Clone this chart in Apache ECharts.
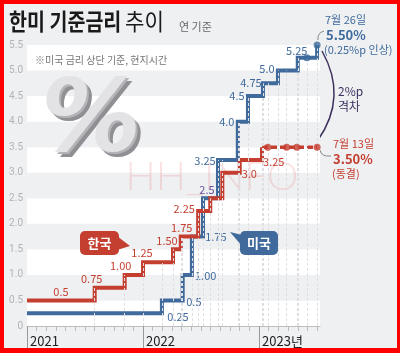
<!DOCTYPE html>
<html>
<head>
<meta charset="utf-8">
<script src="https://cdn.jsdelivr.net/npm/echarts@6/dist/echarts.min.js"></script>
<style>
html,body{margin:0;padding:0;background:#eff0f2;}
#chart{position:absolute;left:0;top:0;width:400px;height:353px;}
#frame{position:absolute;left:0;top:0;width:400px;height:353px;box-sizing:border-box;border-style:solid;border-color:#ff0000;border-width:4px 3px 5px 4px;pointer-events:none;}
</style>
</head>
<body>
<div id="chart"></div>
<div id="frame"></div>
<script>
// x = months since Jan 2021
const usChangeX = [0, 13.95, 16.1, 17.05, 18.2, 19.75, 21.8, 22.85, 24.4, 25.95, 28.0, 30.0];
const usRate    = [0.25, 0.5, 1.0, 1.75, 2.5, 3.25, 4.0, 4.5, 4.75, 5.0, 5.25, 5.5];
const usHoldX   = [28.95];
const krChangeX = [0, 7.0, 10.1, 12.0, 15.1, 15.9, 17.7, 18.95, 20.2, 22.0, 24.3];
const krRate    = [0.5, 0.75, 1.0, 1.25, 1.5, 1.75, 2.25, 2.5, 3.0, 3.25, 3.5];
const krHoldX   = [24.9, 26.85, 27.9, 30.0];
const yearLabels = ['2021', '2022', '2023년'];
const usLabels = ['0.25', '0.5', '1.00', '1.75', '2.5', '3.25', '4.0', '4.5', '4.75', '5.0', '5.25', ''];
const krLabels = ['0.5', '0.75', '1.00', '1.25', '1.50', '1.75', '2.25', '', '3.0', '3.25', ''];

// label offsets (px) from each step corner
const usLabelOff = [[151,4],[32,1],[23,1],[24,0],[4,-8],[-13,1],[-11,0],[-11,0],[-12,-1],[-11,-2],[-1,-7],[0,0]];
const krLabelOff = [[34,-9],[-3,-9],[-4,-9],[-1,-9],[-6,-9],[1,-9],[-14,-2],[0,0],[27,1],[34,2],[0,0]];

const BLUE = '#3f6a9b', RED = '#c53f30', PURPLE = '#6a4c9c', DARK = '#3d3160';
const FONT = "'Noto Sans CJK KR', 'Noto Sans', sans-serif";
const X_MAX = 30.3;

function stepAt(xs, ys, x) {
  let v = ys[0];
  for (let i = 0; i < xs.length; i++) if (xs[i] <= x) v = ys[i];
  return v;
}

// drop lines from each change / hold point down to the axis
let guideX = usChangeX.slice(1).concat(usHoldX, krChangeX.slice(1), krHoldX);
guideX = guideX.filter((x, i) => guideX.indexOf(x) === i);
const guides = guideX.map(x => {
  const top = Math.max(stepAt(usChangeX, usRate, x), stepAt(krChangeX, krRate, x));
  return [{ coord: [x, 0] }, { coord: [x, top] }];
});

function stepData(xs, ys, labels, offs, color) {
  return xs.map((x, i) => ({
    value: [x, ys[i]],
    label: labels[i] ? {
      show: true, formatter: labels[i], offset: offs[i],
      color: (color === BLUE && ys[i] === 2.5) ? PURPLE : color
    } : { show: false }
  }));
}

const monthTicks = [];
for (let m = 0; m <= 30; m++) monthTicks.push(m);

const chart = echarts.init(document.getElementById('chart'));
chart.setOption({
  animation: false,
  grid: { left: 27, right: 80, top: 45, bottom: 27, outerBoundsMode: 'none' },
  xAxis: [
    {
      type: 'value', min: 0, max: X_MAX, interval: 1,
      axisLine: { show: true, lineStyle: { color: '#bdbdbd', width: 1 } },
      axisTick: { show: true, length: 5, lineStyle: { color: '#bdbdbd' }, customValues: monthTicks },
      axisLabel: { show: false },
      splitLine: { show: false }
    },
    {
      type: 'value', min: 0, max: X_MAX, interval: 12, position: 'bottom',
      axisLine: { show: false },
      axisTick: { show: true, length: 23, lineStyle: { color: '#999' }, customValues: [0, 12, 24] },
      axisLabel: {
        show: true, customValues: [0, 12, 24],
        formatter: v => yearLabels[Math.round(v / 12)] || '',
        align: 'left', margin: 9, padding: [0, 0, 0, 3],
        color: '#222', fontSize: 13, fontFamily: FONT
      },
      splitLine: { show: false }
    }
  ],
  yAxis: {
    type: 'value', min: 0, max: 5.5, interval: 0.5,
    axisLine: { show: false }, axisTick: { show: false },
    axisLabel: {
      color: '#b3b3b3', fontSize: 10, margin: 4, fontFamily: 'Roboto, sans-serif',
      formatter: v => v === 0 ? '0' : v.toFixed(1)
    },
    splitLine: { show: false },
    splitArea: { show: true, areaStyle: { color: ['#ffffff', '#eff0f2'] } }
  },
  series: [
    {
      name: 'guides', type: 'line', data: [], silent: true, z: 1,
      markLine: {
        silent: true, symbol: 'none', label: { show: false },
        lineStyle: { color: '#dfdfe3', type: [3, 2], width: 1 },
        data: guides
      }
    },
    {
      name: '미국', type: 'line', step: 'end', silent: true, z: 3,
      data: stepData(usChangeX, usRate, usLabels, usLabelOff, BLUE),
      symbol: 'circle', symbolSize: 2, itemStyle: { color: 'rgba(0,0,0,0)' },
      lineStyle: { color: BLUE, width: 4, join: 'miter' },
      label: { position: 'inside', fontSize: 11, fontFamily: FONT }
    },
    {
      name: '한국', type: 'line', step: 'end', silent: true, z: 4,
      data: stepData(krChangeX, krRate, krLabels, krLabelOff, RED),
      symbol: 'circle', symbolSize: 2, itemStyle: { color: 'rgba(0,0,0,0)' },
      lineStyle: { color: RED, width: 4, join: 'miter' },
      label: { position: 'inside', fontSize: 11, fontFamily: FONT }
    },
    {
      name: '한국 동결', type: 'line', silent: true, z: 4, symbol: 'none',
      data: [[krChangeX[krChangeX.length - 1], krRate[krRate.length - 1]]]
        .concat(krHoldX.map(x => [x, krRate[krRate.length - 1]])),
      lineStyle: { color: RED, width: 3.5, type: [6, 3] }
    },
    {
      name: '미국 점', type: 'scatter', silent: true, z: 5, symbolSize: 7,
      itemStyle: { color: BLUE },
      data: usHoldX.map(x => [x, stepAt(usChangeX, usRate, x)])
        .concat([[usChangeX[usChangeX.length - 1], usRate[usRate.length - 1]]])
    },
    {
      name: '한국 점', type: 'scatter', silent: true, z: 5, symbolSize: 7,
      itemStyle: { color: RED },
      data: krHoldX.map(x => [x, krRate[krRate.length - 1]])
    }
  ],
  graphic: [
    // big 3D-ish percent sign
    { type: 'text', x: 96, y: 130, z: 1, style: { text: '%', font: "italic bold 100px 'DejaVu Sans'", fill: '#8f8f94', textAlign: 'center', textVerticalAlign: 'middle' } },
    { type: 'text', x: 93, y: 127, z: 1, style: { text: '%', font: "italic bold 100px 'DejaVu Sans'", fill: '#b4b4b8', textAlign: 'center', textVerticalAlign: 'middle' } },
    { type: 'text', x: 91, y: 125, z: 1, style: { text: '%', font: "italic bold 100px 'DejaVu Sans'", fill: '#e3e3e5', textAlign: 'center', textVerticalAlign: 'middle' } },
    // watermark
    { type: 'text', x: 212, y: 177, z: 1, style: { text: 'HH_INFO', font: "300 40px Lato", fill: 'rgba(235,110,110,0.2)', textAlign: 'center', textVerticalAlign: 'middle' } },
    // title
    { type: 'text', x: 9, y: 21, scaleX: 0.85, style: { text: '한미 기준금리', font: "bold 23px " + FONT, fill: '#1a1a1a', textVerticalAlign: 'middle' } },
    { type: 'text', x: 125, y: 21, scaleX: 0.92, style: { text: '추이', font: "23px " + FONT, fill: '#1a1a1a', textVerticalAlign: 'middle' } },
    { type: 'text', x: 179, y: 27, style: { text: '연 기준', font: "11px " + FONT, fill: '#666', textVerticalAlign: 'middle' } },
    { type: 'text', x: 35, y: 60, z: 1, style: { text: '※미국 금리 상단 기준, 현지시간', font: "10px " + FONT, fill: '#777', textVerticalAlign: 'middle' } },
    // tag boxes
    { type: 'polygon', z: 6, shape: { points: [[117, 236], [130, 246], [117, 250]] }, style: { fill: RED } },
    { type: 'rect', z: 6, shape: { x: 80, y: 231, width: 39, height: 24, r: 5 }, style: { fill: RED } },
    { type: 'text', z: 7, x: 99.5, y: 243, style: { text: '한국', font: "bold 13px " + FONT, fill: '#fff', textAlign: 'center', textVerticalAlign: 'middle' } },
    { type: 'polygon', z: 6, shape: { points: [[242, 235], [230, 232], [242, 246]] }, style: { fill: BLUE } },
    { type: 'rect', z: 6, shape: { x: 240, y: 231, width: 38, height: 24, r: 5 }, style: { fill: BLUE } },
    { type: 'text', z: 7, x: 259, y: 243, style: { text: '미국', font: "bold 13px " + FONT, fill: '#fff', textAlign: 'center', textVerticalAlign: 'middle' } },
    // right annotations
    { type: 'text', x: 325, y: 20, style: { text: '7월 26일', font: "11px " + FONT, fill: BLUE, textVerticalAlign: 'middle' } },
    { type: 'text', x: 326, y: 35, style: { text: '5.50%', font: "bold 13px " + FONT, fill: BLUE, textVerticalAlign: 'middle' } },
    { type: 'text', x: 324, y: 50, style: { text: '(0.25%p 인상)', font: "11px " + FONT, fill: BLUE, textVerticalAlign: 'middle' } },
    { type: 'bezierCurve', shape: { x1: 318, y1: 40, x2: 324, y2: 31, cpx1: 317, cpy1: 33 }, style: { stroke: '#888', lineWidth: 1, fill: null } },
    { type: 'bezierCurve', shape: { x1: 322, y1: 51, x2: 318, y2: 140, cpx1: 348, cpy1: 97 }, style: { stroke: DARK, lineWidth: 1.5, fill: null } },
    { type: 'text', x: 338, y: 91, style: { text: '2%p', font: "12px " + FONT, fill: DARK, textVerticalAlign: 'middle' } },
    { type: 'text', x: 338, y: 106, style: { text: '격차', font: "12px " + FONT, fill: DARK, textVerticalAlign: 'middle' } },
    { type: 'bezierCurve', shape: { x1: 320, y1: 150, x2: 331, y2: 156, cpx1: 321, cpy1: 157 }, style: { stroke: '#888', lineWidth: 1, fill: null } },
    { type: 'text', x: 333, y: 144, style: { text: '7월 13일', font: "11px " + FONT, fill: RED, textVerticalAlign: 'middle' } },
    { type: 'text', x: 333, y: 159, style: { text: '3.50%', font: "bold 13px " + FONT, fill: RED, textVerticalAlign: 'middle' } },
    { type: 'text', x: 332, y: 174, style: { text: '(동결)', font: "11px " + FONT, fill: RED, textVerticalAlign: 'middle' } }
  ]
});
</script>
</body>
</html>
